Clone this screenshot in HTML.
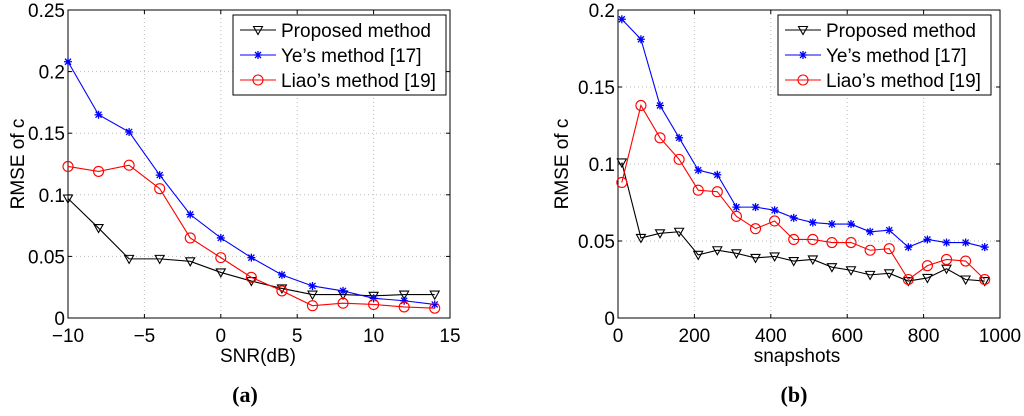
<!DOCTYPE html>
<html><head><meta charset="utf-8"><style>
body{margin:0;background:#fff;width:1024px;height:411px;overflow:hidden}
svg{font-family:"Liberation Sans",sans-serif}
</style></head><body>
<svg id="s" width="1024" height="411" xmlns="http://www.w3.org/2000/svg"></svg>
<script>
const snrX=[-10,-8,-6,-4,-2,0,2,4,6,8,10,12,14];
const aProposed=[.097,.073,.048,.048,.046,.037,.030,.024,.019,.019,.018,.019,.019];
const aYe=[.208,.165,.151,.116,.084,.065,.049,.035,.026,.022,.016,.014,.011];
const aLiao=[.123,.119,.124,.105,.065,.049,.033,.022,.010,.012,.011,.009,.008];
const snapX=[10,60,110,160,210,260,310,360,410,460,510,560,610,660,710,760,810,860,910,960];
const bYe=[.194,.181,.138,.117,.096,.093,.072,.072,.070,.065,.062,.061,.061,.056,.057,.046,.051,.049,.049,.046];
const bLiao=[.088,.138,.117,.103,.083,.082,.066,.058,.063,.051,.051,.049,.049,.044,.045,.025,.034,.038,.037,.025];
const bProposed=[.101,.052,.055,.056,.041,.044,.042,.039,.040,.037,.038,.033,.031,.028,.029,.024,.026,.032,.025,.024];
const aXTicks=[-10,-5,0,5,10,15], aXLabels=["\u221210","\u22125","0","5","10","15"];
const aYTicks=[0,.05,.1,.15,.2,.25], aYLabels=["0","0.05","0.1","0.15","0.2","0.25"];
const bXTicks=[0,200,400,600,800,1000], bXLabels=["0","200","400","600","800","1000"];
const bYTicks=[0,.05,.1,.15,.2], bYLabels=["0","0.05","0.1","0.15","0.2"];
const legendLabels=["Proposed method","Ye\u2019s method [17]","Liao\u2019s method [19]"];
const NS="http://www.w3.org/2000/svg", svg=document.getElementById('s');
function el(t,a,p){const e=document.createElementNS(NS,t);for(const k in a)e.setAttribute(k,a[k]);(p||svg).appendChild(e);return e;}
function marker(g,kind,x,y,c){
 let m;
 if(kind==='tri'){m=el('path',{d:`M${x-4.5},${y-3.5}L${x+4.5},${y-3.5}L${x},${y+4.5}Z`,fill:'none',stroke:c,'stroke-width':1.1},g);}
 else if(kind==='star'){m=el('path',{d:`M${x-4},${y}H${x+4}M${x},${y-4}V${y+4}M${x-3},${y-3}L${x+3},${y+3}M${x-3},${y+3}L${x+3},${y-3}`,stroke:c,'stroke-width':1.3},g);}
 else {m=el('circle',{cx:x,cy:y,r:5,fill:'none',stroke:c,'stroke-width':1.1},g);}
 
 
}
function panel(o){
 const {x0,x1,y0,y1,xmin,xmax,ymax,name}=o;
 const g=el('g',{});
 
 
 const sx=v=>x0+(v-xmin)/(xmax-xmin)*(x1-x0), sy=v=>y1-v/ymax*(y1-y0);
 o.xt.forEach((t,i)=>{const x=sx(t);
  if(i>0&&i<o.xt.length-1){const l=el('line',{x1:x,x2:x,y1:y0,y2:y1,stroke:'#bbb','stroke-dasharray':'1,3'},g);}
  el('line',{x1:x,x2:x,y1:y1,y2:y1-4,stroke:'#000'},g);el('line',{x1:x,x2:x,y1:y0,y2:y0+4,stroke:'#000'},g);
  const tx=el('text',{x:x,y:y1+24,'font-size':19,'text-anchor':'middle'},g);tx.textContent=o.xl[i];
  });
 o.yt.forEach((t,i)=>{const y=sy(t);
  if(i>0&&i<o.yt.length-1){const l=el('line',{x1:x0,x2:x1,y1:y,y2:y,stroke:'#bbb','stroke-dasharray':'1,3'},g);}
  el('line',{x1:x0,x2:x0+4,y1:y,y2:y,stroke:'#000'},g);el('line',{x1:x1,x2:x1-4,y1:y,y2:y,stroke:'#000'},g);
  const tx=el('text',{x:x0-3,y:y+7,'font-size':19,'text-anchor':'end'},g);tx.textContent=o.yl[i];
  });
 const box=el('rect',{x:x0,y:y0,width:x1-x0,height:y1-y0,fill:'none',stroke:'#000'},g);
 
 o.series.forEach(s=>{
  const pts=o.xs.map((v,i)=>sx(v)+','+sy(s.v[i])).join(' ');
  const pl=el('polyline',{points:pts,fill:'none',stroke:s.c,'stroke-width':1.1},g);
  
  o.xs.forEach((v,i)=>marker(g,s.m,sx(v),sy(s.v[i]),s.c));
 });
 const xt=el('text',{x:(x0+x1)/2+o.xtdx,y:y1+44,'font-size':19,'text-anchor':'middle'},g);xt.textContent=o.xtitle;
 
 const yt=el('text',{x:0,y:0,'font-size':19,'text-anchor':'middle',transform:`translate(${o.ytx},${(y0+y1)/2}) rotate(-90)`},g);yt.textContent='RMSE of c';
 
 const lg=el('g',{},g);
 el('rect',{x:o.lx,y:15,width:213,height:80,fill:'#fff',stroke:'#000'},lg);
 o.series.forEach((s,i)=>{const y=30+i*25;
  const e=el('g',{},lg);
  el('line',{x1:o.lx+7,x2:o.lx+43,y1:y,y2:y,stroke:s.c,'stroke-width':1.1},e);
  marker(e,s.m,o.lx+25,y,s.c);
  const t=el('text',{x:o.lx+48,y:y+7,'font-size':19},e);t.textContent=legendLabels[i];});
 const cap=el('text',{x:o.capx,y:402,'font-size':22,'font-weight':'bold','text-anchor':'middle','font-family':'Liberation Serif,serif'},g);
 cap.textContent=o.cap;
}
panel({name:'panel-a',x0:68,x1:450,y0:10,y1:318,xmin:-10,xmax:15,ymax:.25,xt:aXTicks,xl:aXLabels,yt:aYTicks,yl:aYLabels,xs:snrX,
 series:[{n:'proposed',v:aProposed,c:'#000',m:'tri'},{n:'ye',v:aYe,c:'#00f',m:'star'},{n:'liao',v:aLiao,c:'#f00',m:'circ'}],
 xtitle:'SNR(dB)',xtdx:-1,ytx:24,lx:233,cap:'(a)',capx:245});
panel({name:'panel-b',x0:618,x1:1000,y0:10,y1:318,xmin:0,xmax:1000,ymax:.2,xt:bXTicks,xl:bXLabels,yt:bYTicks,yl:bYLabels,xs:snapX,
 series:[{n:'proposed',v:bProposed,c:'#000',m:'tri'},{n:'ye',v:bYe,c:'#00f',m:'star'},{n:'liao',v:bLiao,c:'#f00',m:'circ'}],
 xtitle:'snapshots',xtdx:-12,ytx:568,lx:778,cap:'(b)',capx:794});
</script>
</body></html>
